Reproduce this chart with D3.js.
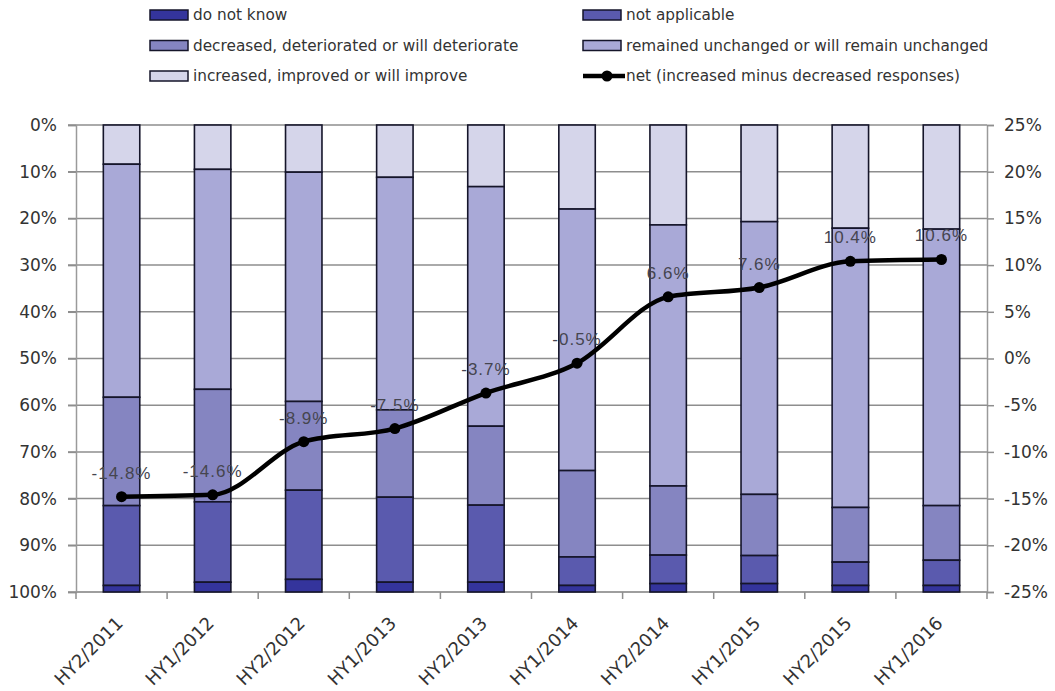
<!DOCTYPE html>
<html>
<head>
<meta charset="utf-8">
<script src="https://cdn.jsdelivr.net/npm/d3@7"></script>
<style>
  html, body { margin: 0; padding: 0; background: #fff; }
  svg { display: block; }
  .axis text { font-family: "DejaVu Sans", sans-serif; fill: #333; }
  .legend text { font-family: "DejaVu Sans", sans-serif; fill: #333; font-size: 15.3px; }
</style>
</head>
<body>
<svg id="chart" width="1055" height="691"></svg>
<script>
// Survey periods
const categories = ["HY2/2011", "HY1/2012", "HY2/2012", "HY1/2013", "HY2/2013",
                    "HY1/2014", "HY2/2014", "HY1/2015", "HY2/2015", "HY1/2016"];

// Response shares (%) per period, stacked top to bottom
const increased = [8.4, 9.5, 10.1, 11.2, 13.2, 18.0, 21.4, 20.7, 22.1, 22.3];
const remained  = [49.9, 47.1, 49.1, 49.8, 51.3, 56.0, 55.9, 58.4, 59.8, 59.2];
const decreased = [23.2, 24.1, 19.0, 18.7, 16.9, 18.5, 14.8, 13.1, 11.7, 11.7];
const notApplicable = [17.1, 17.2, 19.1, 18.2, 16.5, 6.1, 6.1, 6.0, 5.0, 5.4];
const doNotKnow = [1.4, 2.1, 2.7, 2.1, 2.1, 1.4, 1.8, 1.8, 1.4, 1.4];

// Net balance (increased minus decreased), %
const net = [-14.8, -14.6, -8.9, -7.5, -3.7, -0.5, 6.6, 7.6, 10.4, 10.6];

// Axis ticks
const leftTicks = [0, 10, 20, 30, 40, 50, 60, 70, 80, 90, 100];
const rightTicks = [25, 20, 15, 10, 5, 0, -5, -10, -15, -20, -25];

const seriesNames = ["increased, improved or will improve",
                     "remained unchanged or will remain unchanged",
                     "decreased, deteriorated or will deteriorate",
                     "not applicable",
                     "do not know"];
const seriesKeys = ["inc", "rem", "dec", "na", "dnk"];
const colors = {
  inc: "#d5d5ea",
  rem: "#a9a9d7",
  dec: "#8585c1",
  na:  "#5a5aae",
  dnk: "#34349c"
};

const rows = categories.map((c, i) => ({
  cat: c,
  inc: increased[i], rem: remained[i], dec: decreased[i],
  na: notApplicable[i], dnk: doNotKnow[i], net: net[i]
}));

const svg = d3.select("#chart");
const plot = { left: 76, right: 987, top: 125, bottom: 592 };

const x = d3.scaleBand()
  .domain(categories)
  .range([plot.left, plot.right])
  .paddingInner(0.6)
  .paddingOuter(0.3);

const yLeft = d3.scaleLinear().domain([0, 100]).range([plot.top, plot.bottom]);
const yRight = d3.scaleLinear().domain([-25, 25]).range([plot.bottom, plot.top]);

// Horizontal gridlines
svg.append("g")
  .selectAll("line")
  .data(leftTicks)
  .join("line")
  .attr("x1", plot.left - 8)
  .attr("x2", plot.right)
  .attr("y1", d => yLeft(d))
  .attr("y2", d => yLeft(d))
  .attr("stroke", "#8e8e8e")
  .attr("stroke-width", 1.5);

// Left axis
const leftAxis = svg.append("g")
  .attr("class", "axis")
  .attr("transform", `translate(${plot.left},0)`)
  .call(d3.axisLeft(yLeft).tickValues(leftTicks).tickFormat(d => d + "%")
        .tickSize(8).tickPadding(11));
leftAxis.select(".domain").attr("stroke", "#9a9a9a").attr("stroke-width", 1.5);
leftAxis.selectAll(".tick line").attr("stroke", "#8e8e8e").attr("stroke-width", 1.5);
leftAxis.selectAll("text").style("font-size", "17px");

// Right axis
const rightAxis = svg.append("g")
  .attr("class", "axis")
  .attr("transform", `translate(${plot.right},0)`)
  .call(d3.axisRight(yRight).tickValues(rightTicks).tickFormat(d => d + "%")
        .tickSize(7).tickPadding(10));
rightAxis.select(".domain").attr("stroke", "#9a9a9a").attr("stroke-width", 1.5);
rightAxis.selectAll(".tick line").attr("stroke", "#8e8e8e").attr("stroke-width", 1.5);
rightAxis.selectAll("text").style("font-size", "17px");

// Bottom axis: ticks at category boundaries
const boundaries = d3.range(categories.length + 1).map(i => plot.left + i * x.step());
const bottom = svg.append("g").attr("class", "axis");
bottom.append("line")
  .attr("x1", plot.left).attr("x2", plot.right)
  .attr("y1", plot.bottom).attr("y2", plot.bottom)
  .attr("stroke", "#9a9a9a").attr("stroke-width", 1.5);
bottom.selectAll("line.tk")
  .data(boundaries)
  .join("line")
  .attr("class", "tk")
  .attr("x1", d => d).attr("x2", d => d)
  .attr("y1", plot.bottom).attr("y2", plot.bottom + 7)
  .attr("stroke", "#8e8e8e").attr("stroke-width", 1.5);
bottom.selectAll("text")
  .data(categories)
  .join("text")
  .attr("transform", d => `translate(${x(d) + x.bandwidth() / 2 - 2},${plot.bottom + 28}) rotate(-45)`)
  .attr("text-anchor", "end")
  .attr("dy", "0.35em")
  .style("font-size", "18px")
  .text(d => d);

// Stacked bars
const stacked = d3.stack().keys(seriesKeys)(rows);
svg.append("g")
  .selectAll("g")
  .data(stacked)
  .join("g")
  .attr("fill", s => colors[s.key])
  .selectAll("rect")
  .data(s => s)
  .join("rect")
  .attr("x", d => x(d.data.cat))
  .attr("width", x.bandwidth())
  .attr("y", d => yLeft(d[0]))
  .attr("height", d => yLeft(d[1]) - yLeft(d[0]))
  .attr("stroke", "#15152a")
  .attr("stroke-width", 1.6);

// Net balance line
const cx = d => x(d.cat) + x.bandwidth() / 2;
const line = d3.line()
  .x(cx)
  .y(d => yRight(d.net))
  .curve(d3.curveMonotoneX);

svg.append("path")
  .datum(rows)
  .attr("d", line)
  .attr("fill", "none")
  .attr("stroke", "#000")
  .attr("stroke-width", 4.5)
  .attr("stroke-linejoin", "round");

svg.append("g")
  .selectAll("circle")
  .data(rows)
  .join("circle")
  .attr("cx", cx)
  .attr("cy", d => yRight(d.net))
  .attr("r", 5.5)
  .attr("fill", "#000");

// Value labels
svg.append("g")
  .selectAll("text")
  .data(rows)
  .join("text")
  .attr("x", cx)
  .attr("y", d => yRight(d.net) - 18)
  .attr("text-anchor", "middle")
  .style("font-family", "'Liberation Sans', Arial, sans-serif")
  .style("font-size", "17px")
  .style("letter-spacing", "1px")
  .style("fill", "#45454f")
  .text(d => d.net.toFixed(1) + "%");

// Legend
const legendItems = [
  { key: "dnk", col: 0, row: 0 },
  { key: "na",  col: 1, row: 0 },
  { key: "dec", col: 0, row: 1 },
  { key: "rem", col: 1, row: 1 },
  { key: "inc", col: 0, row: 2 },
  { key: "net", col: 1, row: 2 }
];
const legendCols = [150, 583];
const legendRows = [15, 45.5, 76];
const legend = svg.append("g").attr("class", "legend");
legendItems.forEach(item => {
  const g = legend.append("g")
    .attr("transform", `translate(${legendCols[item.col]},${legendRows[item.row]})`);
  if (item.key === "net") {
    g.append("line").attr("x1", 0).attr("x2", 42).attr("y1", 0).attr("y2", 0)
      .attr("stroke", "#000").attr("stroke-width", 4.5);
    g.append("circle").attr("cx", 24).attr("cy", 0).attr("r", 5.5).attr("fill", "#000");
    g.append("text").attr("x", 43).attr("y", 0).attr("dy", "0.35em")
      .text("net (increased minus decreased responses)");
  } else {
    g.append("rect").attr("x", 0).attr("y", -5).attr("width", 38).attr("height", 10)
      .attr("fill", colors[item.key]).attr("stroke", "#15152a").attr("stroke-width", 1.5);
    g.append("text").attr("x", 43).attr("y", 0).attr("dy", "0.35em")
      .text(seriesNames[seriesKeys.indexOf(item.key)]);
  }
});
</script>
</body>
</html>
